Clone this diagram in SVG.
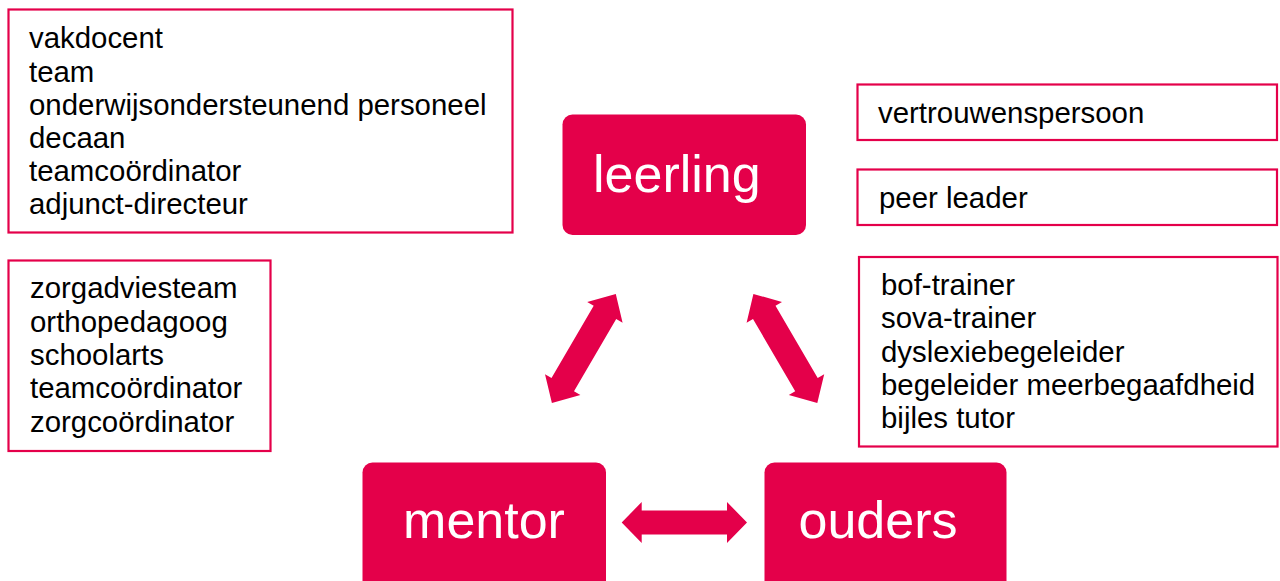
<svg xmlns="http://www.w3.org/2000/svg" width="1280" height="581" viewBox="0 0 1280 581">
<style>
.box{fill:#fff;stroke:#E4004A;stroke-width:2.2}
.node{fill:#E4004A}
.t{font-family:"Liberation Sans",Arial,sans-serif;font-size:29.4px;fill:#000}
.big{font-family:"Liberation Sans",Arial,sans-serif;font-size:52px;fill:#fff}
.arrow{fill:#E4004A}
</style>
<rect width="1280" height="581" fill="#fff"/>
<g id="box-staff">
<rect class="box" x="8.5" y="9.5" width="504" height="223"/>
<text class="t" x="29"><tspan x="29" y="48.3">vakdocent</tspan><tspan x="29" y="81.5">team</tspan><tspan x="29" y="114.7">onderwijsondersteunend personeel</tspan><tspan x="29" y="147.9">decaan</tspan><tspan x="29" y="181.1">teamcoördinator</tspan><tspan x="29" y="214.3">adjunct-directeur</tspan></text>
</g>
<g id="box-zorg">
<rect class="box" x="8.5" y="260.5" width="262" height="190.5"/>
<text class="t"><tspan x="30" y="298.3">zorgadviesteam</tspan><tspan x="30" y="331.6">orthopedagoog</tspan><tspan x="30" y="364.9">schoolarts</tspan><tspan x="30" y="398.2">teamcoördinator</tspan><tspan x="30" y="431.5">zorgcoördinator</tspan></text>
</g>
<g id="box-vertrouwen">
<rect class="box" x="857.5" y="84.5" width="419.5" height="55.5"/>
<text class="t" x="878" y="123.3">vertrouwenspersoon</text>
</g>
<g id="box-peer">
<rect class="box" x="857.5" y="169.5" width="419.5" height="55.5"/>
<text class="t" x="879" y="208.3">peer leader</text>
</g>
<g id="box-trainers">
<rect class="box" x="859" y="257" width="418.5" height="189.5"/>
<text class="t"><tspan x="881" y="295">bof-trainer</tspan><tspan x="881" y="328.3">sova-trainer</tspan><tspan x="881" y="361.6">dyslexiebegeleider</tspan><tspan x="881" y="394.9">begeleider meerbegaafdheid</tspan><tspan x="881" y="428.2">bijles tutor</tspan></text>
</g>
<g id="node-leerling">
<rect class="node" x="562.5" y="114.5" width="243.5" height="120.5" rx="10"/>
<text class="big" x="593" y="191.7">leerling</text>
</g>
<g id="node-mentor">
<rect class="node" x="362.5" y="462.5" width="243.5" height="130" rx="10"/>
<text class="big" x="484" y="538.3" text-anchor="middle">mentor</text>
</g>
<g id="node-ouders">
<rect class="node" x="764.5" y="462.5" width="242" height="130" rx="10"/>
<text class="big" x="878" y="538.3" text-anchor="middle">ouders</text>
</g>
<g id="connectors">
<polygon class="arrow" points="615.8,293.9 622.6,322.8 616.2,319.0 574.0,391.2 580.4,395.0 551.9,403.1 545.0,374.2 551.5,378.0 593.7,305.8 587.2,302.0"/>
<polygon class="arrow" points="753.4,293.9 746.6,322.8 753.0,319.0 795.2,391.2 788.8,395.0 817.3,403.1 824.2,374.2 817.7,378.0 775.5,305.8 782.0,302.0"/>
<polygon class="arrow" points="621.7,522.5 641.7,502 641.7,510.5 727,510.5 727,502 747,522.5 727,543 727,534.5 641.7,534.5 641.7,543"/>
</g>
</svg>
